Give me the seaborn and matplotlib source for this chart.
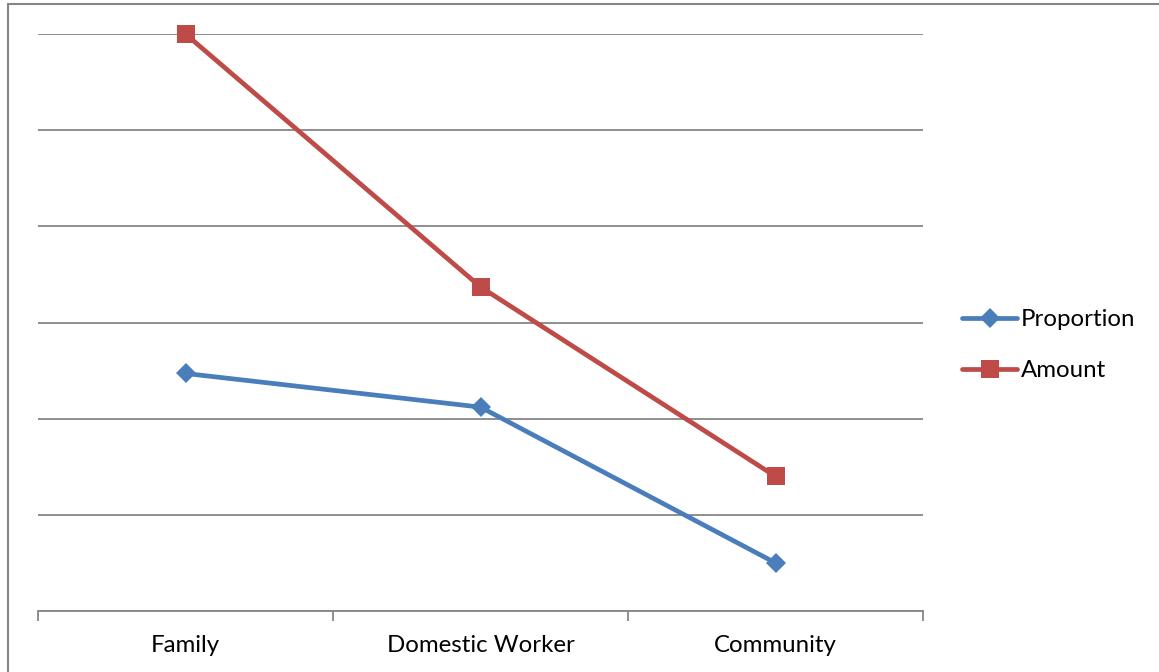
import matplotlib
matplotlib.use("Agg")
import matplotlib.pyplot as plt
import seaborn as sns
import pandas as pd
from matplotlib.lines import Line2D

categories = ["Family", "Domestic Worker", "Community"]
proportion = [2.47, 2.12, 0.50]
amount = [6.0, 3.37, 1.40]
series_names = ["Proportion", "Amount"]

sns.set_theme(style="white")
plt.rcParams['font.family'] = ['Lato', 'DejaVu Sans']
plt.rcParams['text.color'] = 'black'

fig = plt.figure(figsize=(11.59, 6.72), dpi=100)
ax = fig.add_axes([38/1159, 61/672, (923-38)/1159, (611-34)/672])

grid_c = "#868686"
blue = "#4A7EBB"
red = "#BE4B48"

df = pd.DataFrame({
    "cat": categories * 2,
    "val": proportion + amount,
    "series": [series_names[0]] * 3 + [series_names[1]] * 3,
})

sns.lineplot(data=df[df.series == "Proportion"], x="cat", y="val", ax=ax,
             color=blue, lw=3.4, marker="D", markersize=10, markeredgewidth=0,
             label="Proportion", clip_on=False, zorder=3)
sns.lineplot(data=df[df.series == "Amount"], x="cat", y="val", ax=ax,
             color=red, lw=3.4, marker="s", markersize=12.5, markeredgewidth=0,
             label="Amount", clip_on=False, zorder=3)

ax.set_xlim(-0.5, 2.5)
ax.set_ylim(0, 6)
ax.set_yticks(range(0, 7))
ax.set_yticklabels([])
ax.yaxis.grid(True, color=grid_c, lw=1.3)
ax.tick_params(axis="y", length=0)
for s in ["left", "right", "top"]:
    ax.spines[s].set_visible(False)
ax.spines["bottom"].set_color(grid_c)
ax.spines["bottom"].set_linewidth(1.3)
ax.set_xlabel("")
ax.set_ylabel("")

ax.set_xticks([0, 1, 2])
ax.set_xticklabels(categories, fontsize=17.3)
ax.tick_params(axis="x", which="major", length=0, pad=17, colors="black")
ax.set_xticks([-0.5, 0.5, 1.5, 2.5], minor=True)
ax.tick_params(axis="x", which="minor", length=7, width=1.3, color=grid_c, bottom=True, direction="out")

leg = ax.legend(loc="center left", bbox_to_anchor=(962/1159, 1 - 345/672),
                bbox_transform=fig.transFigure, frameon=False, fontsize=17.3,
                handlelength=2.3, handletextpad=0.15, labelspacing=1.25,
                borderaxespad=0, borderpad=0)
for t in leg.get_texts():
    t.set_color("black")

fig.add_artist(Line2D([8/1159, 1], [1 - 4/672, 1 - 4/672], transform=fig.transFigure,
                      color=grid_c, lw=1.5))
fig.add_artist(Line2D([8/1159, 8/1159], [0, 1 - 4/672], transform=fig.transFigure,
                      color=grid_c, lw=1.5))

fig.savefig("out.png", dpi=100, facecolor="white")
